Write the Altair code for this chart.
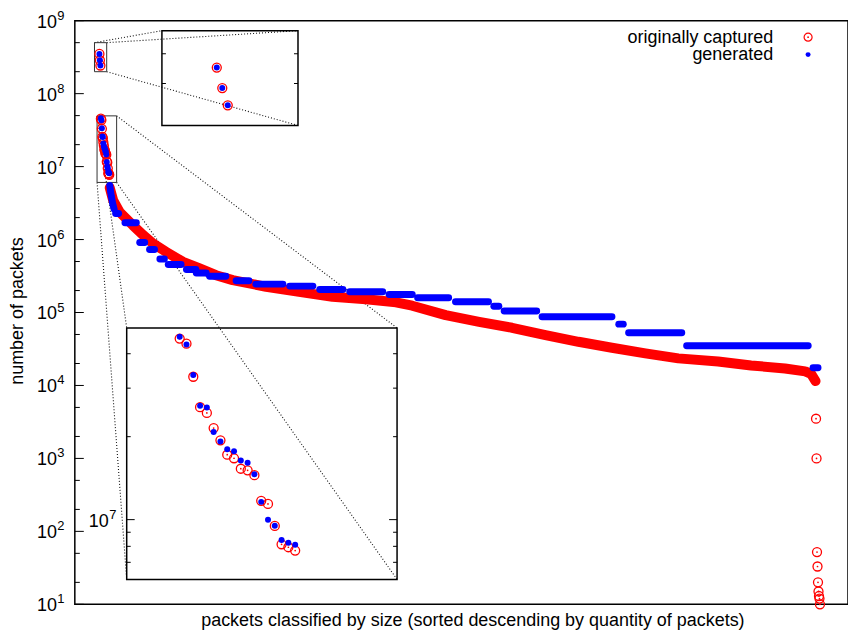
import math
import altair as alt
import pandas as pd

# ---------------------------------------------------------------- data
# rank of the packet size (1 = most frequent) and number of packets

# the three largest sizes
TOP_IDX = [1, 2, 3]
TOP_CAPTURED = [3.50e8, 2.87e8, 2.43e8]
TOP_GENERATED = [3.50e8, 2.87e8, 2.43e8]

# the next eighteen sizes
HEAD_IDX = list(range(4, 22))
HEAD_CAPTURED = [4.54e7, 4.35e7, 3.30e7, 2.56e7, 2.44e7, 2.15e7, 1.94e7, 1.72e7, 1.67e7,
                 1.53e7, 1.51e7, 1.45e7, 1.17e7, 1.14e7, 9.49e6, 8.14e6, 7.94e6, 7.72e6]
HEAD_GENERATED = [4.61e7, 4.32e7, 3.35e7, 2.59e7, 2.55e7, 2.08e7, 1.92e7, 1.80e7, 1.77e7,
                  1.64e7, 1.61e7, 1.46e7, 1.16e7, 1.00e7, 9.51e6, 8.44e6, 8.25e6, 8.11e6]

# captured traffic: the long dense body
CAP_BODY_IDX = [22, 29, 42, 69, 90, 110, 137, 171, 205, 238, 272, 340, 407, 475, 543,
                604, 637, 705, 773, 840, 908, 975, 1043, 1111, 1178, 1259, 1326, 1395,
                1436, 1448, 1457]
CAP_BODY_VAL = [5.14e6, 3.45e6, 2.39e6, 1.57e6, 1.15e6, 8.81e5, 6.77e5, 4.94e5, 4.01e5,
                3.25e5, 2.78e5, 2.25e5, 1.92e5, 1.64e5, 1.52e5, 1.38e5, 1.24e5, 9.2e4,
                7.46e4, 6.18e4, 4.91e4, 3.97e4, 3.29e4, 2.75e4, 2.35e4, 2.13e4, 1.88e4,
                1.71e4, 1.56e4, 1.44e4, 1.15e4]

# captured traffic: the rare sizes at the end
CAP_TAIL_IDX = [1458, 1459, 1460, 1461, 1462, 1463, 1464, 1465, 1466]
CAP_TAIL_VAL = [3.5e3, 1.0e3, 52, 33, 20, 15, 13, 12, 10]

# generated traffic: short slope after the head, then flat steps
GEN_SLOPE_IDX = [22, 25, 28, 31]
GEN_SLOPE_VAL = [5.5e6, 4.0e6, 3.1e6, 2.6e6]

GEN_STEP_FROM = [34, 53, 83, 103, 124, 141, 178, 198, 225, 279, 319, 388, 449, 510,
                 590, 648, 725, 803, 824, 901, 1057, 1077, 1195, 1452]
GEN_STEP_TO = [40, 76, 93, 113, 133, 167, 197, 218, 258, 305, 374, 435, 496, 577,
               637, 711, 792, 813, 890, 1043, 1066, 1185, 1442, 1462]
GEN_STEP_VAL = [2.27e6, 1.70e6, 9.1e5, 7.3e5, 5.43e5, 4.55e5, 3.89e5, 3.49e5, 3.15e5,
                2.72e5, 2.45e5, 2.30e5, 2.07e5, 1.92e5, 1.77e5, 1.59e5, 1.40e5, 1.22e5,
                1.05e5, 8.73e4, 6.93e4, 5.27e4, 3.51e4, 1.75e4]

DECADES = list(range(1, 10))
INSET_DECADE = [7]
INSET_MINOR_TOP = [3e8, 4e8]
INSET_MINOR_HEAD = [7e6, 8e6, 9e6, 2e7, 3e7, 4e7]

SERIES = ["originally captured", "generated"]

# ---------------------------------------------------------------- layout
W, H = 775, 585
X_DOM = [-49, 1523]
Y_DOM = [10, 1e9]

# zoomed regions: index range and value range, and where the zoom is drawn
HEAD_ZOOM = dict(xd=[-3.8, 36], yd=[6.07e6, 4.96e7], xr=[52, 323], yr=[560, 308])
TOP_ZOOM = dict(xd=[-9, 15.8], yd=[2e8, 5e8], xr=[87.3, 223.7], yr=[105, 10])

RED = "#ff0000"
BLUE = "#0000ff"
FONT = "Liberation Sans"


def px_x(i):
    return (i - X_DOM[0]) / (X_DOM[1] - X_DOM[0]) * W


def px_y(v):
    lo, hi = math.log10(Y_DOM[0]), math.log10(Y_DOM[1])
    return (hi - math.log10(v)) / (hi - lo) * H


def lin(dom, rng):
    return alt.Scale(domain=dom, range=rng, nice=False, zero=False)


def logs(dom, rng):
    return alt.Scale(type="log", domain=dom, range=rng, nice=False)


MX = lin(X_DOM, [0, W])
MY = logs(Y_DOM, [H, 0])


def xy(chart, xsc, ysc, xf="i", yf="v"):
    return chart.encode(
        x=alt.X(f"{xf}:Q", scale=xsc, axis=None),
        y=alt.Y(f"{yf}:Q", scale=ysc, axis=None),
    )


def ring(size=81, width=1.3):
    return dict(shape="circle", filled=False, size=size, strokeWidth=width, color=RED, opacity=1)


def ring_dot():
    return dict(shape="circle", filled=True, size=3, color=RED, opacity=1)


def dot(size=36):
    return dict(shape="circle", filled=True, size=size, color=BLUE, opacity=1)


# ---------------------------------------------------------------- tables
head_cap = pd.DataFrame({"i": TOP_IDX + HEAD_IDX, "v": TOP_CAPTURED + HEAD_CAPTURED})
head_gen = pd.DataFrame({"i": TOP_IDX + HEAD_IDX, "v": TOP_GENERATED + HEAD_GENERATED})
body = pd.DataFrame({"i": CAP_BODY_IDX, "v": CAP_BODY_VAL})
tail = pd.DataFrame({"i": CAP_TAIL_IDX, "v": CAP_TAIL_VAL})

rows = [{"seg": -1, "i": i, "v": v} for i, v in zip(GEN_SLOPE_IDX, GEN_SLOPE_VAL)]
for k, (a, b, v) in enumerate(zip(GEN_STEP_FROM, GEN_STEP_TO, GEN_STEP_VAL)):
    rows.append({"seg": k, "i": a, "v": v})
    rows.append({"seg": k, "i": b, "v": v})
steps = pd.DataFrame(rows)

major = pd.DataFrame({"e": DECADES, "v": [10.0 ** e for e in DECADES]})
minor = pd.DataFrame({"v": [m * 10.0 ** e for e in range(1, 9) for m in (2, 5)]})

# ---------------------------------------------------------------- main plot
layers = []

# dotted guides from each zoom box to its enlarged view
guides = []
for z, corners in ((HEAD_ZOOM, ("tl", "tr", "bl", "br")), (TOP_ZOOM, ("tl", "tr", "br"))):
    bx = {"l": px_x(z["xd"][0]), "r": px_x(z["xd"][1])}
    by = {"t": px_y(z["yd"][1]), "b": px_y(z["yd"][0])}
    ix = {"l": z["xr"][0], "r": z["xr"][1]}
    iy = {"t": z["yr"][1], "b": z["yr"][0]}
    for c in corners:
        guides.append({"x": bx[c[1]], "y": by[c[0]], "x2": ix[c[1]], "y2": iy[c[0]]})
layers.append(
    alt.Chart(pd.DataFrame(guides))
    .mark_rule(color="#111111", strokeWidth=1.1, strokeDash=[1, 2])
    .encode(
        x=alt.X("x:Q", scale=None), y=alt.Y("y:Q", scale=None),
        x2="x2:Q", y2="y2:Q",
    )
)

# zoom boxes on the main plot
boxes = pd.DataFrame({
    "x0": [HEAD_ZOOM["xd"][0], TOP_ZOOM["xd"][0]],
    "x1": [HEAD_ZOOM["xd"][1], TOP_ZOOM["xd"][1]],
    "lo": [HEAD_ZOOM["yd"][0], TOP_ZOOM["yd"][0]],
    "hi": [HEAD_ZOOM["yd"][1], TOP_ZOOM["yd"][1]],
})
layers.append(
    alt.Chart(boxes).mark_rect(filled=False, color="#333333", strokeWidth=1).encode(
        x=alt.X("x0:Q", scale=MX, axis=None), x2="x1:Q",
        y=alt.Y("lo:Q", scale=MY, axis=None), y2="hi:Q",
    )
)

# originally captured
layers.append(xy(alt.Chart(body).mark_line(
    color=RED, strokeWidth=10, strokeCap="round", strokeJoin="round"), MX, MY))
for df in (head_cap, tail):
    layers.append(xy(alt.Chart(df).mark_point(**ring()), MX, MY))
    layers.append(xy(alt.Chart(df).mark_point(**ring_dot()), MX, MY))

# generated
layers.append(xy(alt.Chart(steps).mark_line(
    color=BLUE, strokeWidth=7, strokeCap="round", strokeJoin="round"), MX, MY)
    .encode(detail="seg:N"))
layers.append(xy(alt.Chart(head_gen).mark_point(**dot()), MX, MY))


# ---------------------------------------------------------------- enlarged views
def zoom_layers(z, df_cap, df_gen, minor_vals, major_vals):
    sx = lin(z["xd"], z["xr"])
    sy = logs(z["yd"], z["yr"])
    out = []
    frame = pd.DataFrame({"x0": [z["xd"][0]], "x1": [z["xd"][1]],
                          "lo": [z["yd"][0]], "hi": [z["yd"][1]]})
    out.append(alt.Chart(frame).mark_rect(filled=False, color="black", strokeWidth=1.5).encode(
        x=alt.X("x0:Q", scale=sx, axis=None), x2="x1:Q",
        y=alt.Y("lo:Q", scale=sy, axis=None), y2="hi:Q",
    ))
    for vals, ln in ((minor_vals, 4), (major_vals, 8)):
        if not vals:
            continue
        tk = pd.DataFrame({"v": vals})
        for x0, x1 in ((z["xr"][0], z["xr"][0] + ln), (z["xr"][1], z["xr"][1] - ln)):
            out.append(alt.Chart(tk).mark_rule(color="black", strokeWidth=1).encode(
                y=alt.Y("v:Q", scale=sy, axis=None),
                x=alt.value(x0), x2=alt.value(x1),
            ))
    out.append(xy(alt.Chart(df_cap).mark_point(**ring()), sx, sy))
    out.append(xy(alt.Chart(df_cap).mark_point(**ring_dot()), sx, sy))
    out.append(xy(alt.Chart(df_gen).mark_point(**dot()), sx, sy))
    return out, sy


top_cap = pd.DataFrame({"i": TOP_IDX, "v": TOP_CAPTURED})
top_gen = pd.DataFrame({"i": TOP_IDX, "v": TOP_GENERATED})
mid_cap = pd.DataFrame({"i": HEAD_IDX, "v": HEAD_CAPTURED})
mid_gen = pd.DataFrame({"i": HEAD_IDX, "v": HEAD_GENERATED})

zl, _ = zoom_layers(TOP_ZOOM, top_cap, top_gen, INSET_MINOR_TOP, [])
layers += zl
zl, head_sy = zoom_layers(HEAD_ZOOM, mid_cap, mid_gen, INSET_MINOR_HEAD,
                          [10.0 ** e for e in INSET_DECADE])
layers += zl

# ---------------------------------------------------------------- axes
layers.append(alt.Chart(major).mark_rule(color="black", strokeWidth=1).encode(
    y=alt.Y("v:Q", scale=MY, axis=None), x=alt.value(0), x2=alt.value(9)))
layers.append(alt.Chart(minor).mark_rule(color="black", strokeWidth=1).encode(
    y=alt.Y("v:Q", scale=MY, axis=None), x=alt.value(0), x2=alt.value(5)))


def power_labels(df, ysc, x_edge):
    base = alt.Chart(df).encode(y=alt.Y("v:Q", scale=ysc, axis=None))
    ten = base.mark_text(font=FONT, fontSize=18, align="right", baseline="middle",
                         dy=2, color="black").encode(x=alt.value(x_edge - 18),
                                                     text=alt.value("10"))
    exp = base.mark_text(font=FONT, fontSize=13, align="left", baseline="middle",
                         dy=-5, color="black").encode(x=alt.value(x_edge - 17.5),
                                                      text="e:N")
    return [ten, exp]


layers += power_labels(major, MY, 0)
inset_major = pd.DataFrame({"e": INSET_DECADE, "v": [10.0 ** e for e in INSET_DECADE]})
layers += power_labels(inset_major, head_sy, HEAD_ZOOM["xr"][0])

# titles
layers.append(alt.Chart(pd.DataFrame({"t": ["packets classified by size (sorted descending by quantity of packets)"]}))
              .mark_text(font=FONT, fontSize=18, align="center", baseline="middle", color="black")
              .encode(text="t:N", x=alt.value(W / 2 + 11.5), y=alt.value(H + 17)))
layers.append(alt.Chart(pd.DataFrame({"t": ["number of packets"]}))
              .mark_text(font=FONT, fontSize=18, align="center", baseline="middle",
                         angle=270, color="black")
              .encode(text="t:N", x=alt.value(-57), y=alt.value(291)))

# legend: label on the left, symbol on the right
LEG_Y = [17, 34]
for k, name in enumerate(SERIES):
    layers.append(alt.Chart(pd.DataFrame({"name": [name]})).mark_text(
        font=FONT, fontSize=18, align="right", baseline="middle", color="black").encode(
        text="name:N", x=alt.value(700), y=alt.value(LEG_Y[k])))
sym = pd.DataFrame({"k": [0]})
layers.append(alt.Chart(sym).mark_point(**ring(64, 1.2)).encode(
    x=alt.value(735), y=alt.value(LEG_Y[0] - 0.5)))
layers.append(alt.Chart(sym).mark_point(**ring_dot()).encode(
    x=alt.value(735), y=alt.value(LEG_Y[0] - 0.5)))
layers.append(alt.Chart(sym).mark_point(**dot(25)).encode(
    x=alt.value(735), y=alt.value(LEG_Y[1])))

chart = (
    alt.layer(*layers)
    .resolve_scale(x="independent", y="independent")
    .properties(
        width=W, height=H,
        autosize=alt.AutoSizeParams(type="none"),
        padding={"left": 75, "top": 20, "right": 0, "bottom": 30},
        background="white",
    )
    .configure_view(stroke="black", strokeWidth=1.5)
)

chart.save("out.html", embed_options={"renderer": "svg", "actions": False})
